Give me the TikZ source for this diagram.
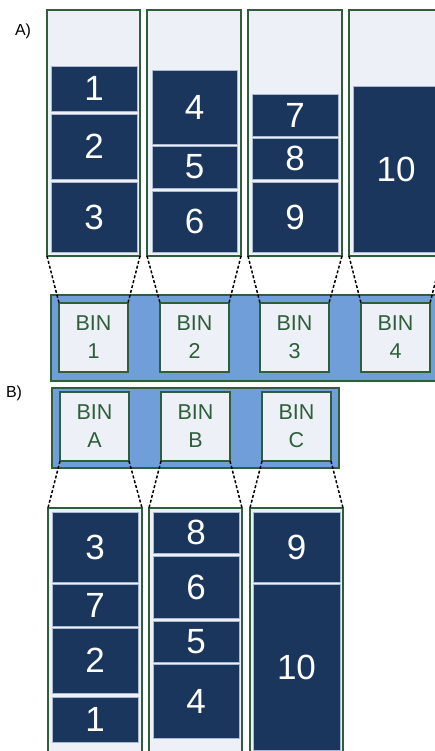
\documentclass[tikz,border=0pt]{standalone}
\usepackage{fontspec}
\setmainfont{Liberation Sans}
\definecolor{navy}{RGB}{27,54,93}
\definecolor{pale}{RGB}{237,240,246}
\definecolor{dgreen}{RGB}{46,94,58}
\definecolor{barblue}{RGB}{111,158,216}
\definecolor{edge}{RGB}{170,185,210}
\begin{document}
\begin{tikzpicture}[x=1pt,y=-1pt,
  col/.style={draw=dgreen,line width=1.6pt,fill=pale,anchor=north west,inner sep=0,outer sep=0},
  block/.style={draw=edge,line width=0.8pt,fill=navy,text=white,anchor=north west,inner sep=0,outer sep=0,font=\fontsize{35}{35}\selectfont},
  bar/.style={draw=dgreen,line width=1.6pt,fill=barblue,anchor=north west,inner sep=0,outer sep=0},
  binbox/.style={draw=dgreen,line width=1.6pt,fill=pale,anchor=north west,inner sep=0,outer sep=0,minimum width=69pt,minimum height=69pt,text=dgreen,align=center,font=\fontsize{21.5}{28}\selectfont},
  link/.style={draw=black,dashed,dash pattern=on 3pt off 2pt,line width=1.5pt},
  lbl/.style={font=\fontsize{16}{16}\selectfont,text=black,inner sep=0}]
\useasboundingbox (0,0) rectangle (435,751);
\begin{scope}
\clip (0,0) rectangle (435,751);
% Part A
\node[lbl] (la) at (23,31) {A)};
\node[col,minimum width=93pt,minimum height=246pt] (ca1) at (47,10) {};
\node[col,minimum width=94pt,minimum height=246pt] (ca2) at (147,10) {};
\node[col,minimum width=94pt,minimum height=246pt] (ca3) at (248,10) {};
\node[col,minimum width=93pt,minimum height=246pt] (ca4) at (349,10) {};
\node[block,minimum width=86pt,minimum height=45pt] (a1) at (51,66) {1};
\node[block,minimum width=86pt,minimum height=65pt] (a2) at (51,114) {2};
\node[block,minimum width=86pt,minimum height=70pt] (a3) at (51,182) {3};
\node[block,minimum width=85pt,minimum height=74pt] (a4) at (152,70) {4};
\node[block,minimum width=85pt,minimum height=42pt] (a5) at (152,146) {5};
\node[block,minimum width=85pt,minimum height=61pt] (a6) at (152,191) {6};
\node[block,minimum width=86pt,minimum height=42pt] (a7) at (252,94) {7};
\node[block,minimum width=86pt,minimum height=41pt] (a8) at (252,138) {8};
\node[block,minimum width=86pt,minimum height=70pt] (a9) at (252,182) {9};
\node[block,minimum width=86pt,minimum height=166pt] (a10) at (353,86) {10};
\node[bar,minimum width=400pt,minimum height=86pt] (bara) at (51,295) {};
\node[binbox] (bin1) at (59,303) {BIN\\1};
\node[binbox] (bin2) at (160,303) {BIN\\2};
\node[binbox] (bin3) at (260,303) {BIN\\3};
\node[binbox] (bin4) at (361,303) {BIN\\4};
\draw[link] (ca1.south west) -- (bin1.north west);
\draw[link] (ca1.south east) -- (bin1.north east);
\draw[link] (ca2.south west) -- (bin2.north west);
\draw[link] (ca2.south east) -- (bin2.north east);
\draw[link] (ca3.south west) -- (bin3.north west);
\draw[link] (ca3.south east) -- (bin3.north east);
\draw[link] (ca4.south west) -- (bin4.north west);
\draw[link] (ca4.south east) -- (bin4.north east);
% Part B
\node[lbl] (lb) at (14,393) {B)};
\node[bar,minimum width=287pt,minimum height=80pt] (barb) at (52,388) {};
\node[binbox] (binA) at (60,392) {BIN\\A};
\node[binbox] (binB) at (161,392) {BIN\\B};
\node[binbox] (binC) at (262,392) {BIN\\C};
\node[col,minimum width=94pt,minimum height=260pt] (cb1) at (48,508) {};
\node[col,minimum width=93pt,minimum height=260pt] (cb2) at (149,508) {};
\node[col,minimum width=93pt,minimum height=260pt] (cb3) at (250,508) {};
\draw[link] (binA.south west) -- (cb1.north west);
\draw[link] (binA.south east) -- (cb1.north east);
\draw[link] (binB.south west) -- (cb2.north west);
\draw[link] (binB.south east) -- (cb2.north east);
\draw[link] (binC.south west) -- (cb3.north west);
\draw[link] (binC.south east) -- (cb3.north east);
\node[block,minimum width=86pt,minimum height=70pt] (b3) at (52,512) {3};
\node[block,minimum width=86pt,minimum height=42pt] (b7) at (52,584) {7};
\node[block,minimum width=86pt,minimum height=65pt] (b2) at (52,628) {2};
\node[block,minimum width=86pt,minimum height=45pt] (b1) at (52,697) {1};
\node[block,minimum width=86pt,minimum height=41pt] (b8) at (153,512) {8};
\node[block,minimum width=86pt,minimum height=62pt] (b6) at (153,556) {6};
\node[block,minimum width=86pt,minimum height=41pt] (b5) at (153,621) {5};
\node[block,minimum width=86pt,minimum height=74pt] (b4) at (153,664) {4};
\node[block,minimum width=87pt,minimum height=70pt] (b9) at (253,512) {9};
\node[block,minimum width=87pt,minimum height=166pt] (b10) at (253,584) {10};
\end{scope}
\end{tikzpicture}
\end{document}
